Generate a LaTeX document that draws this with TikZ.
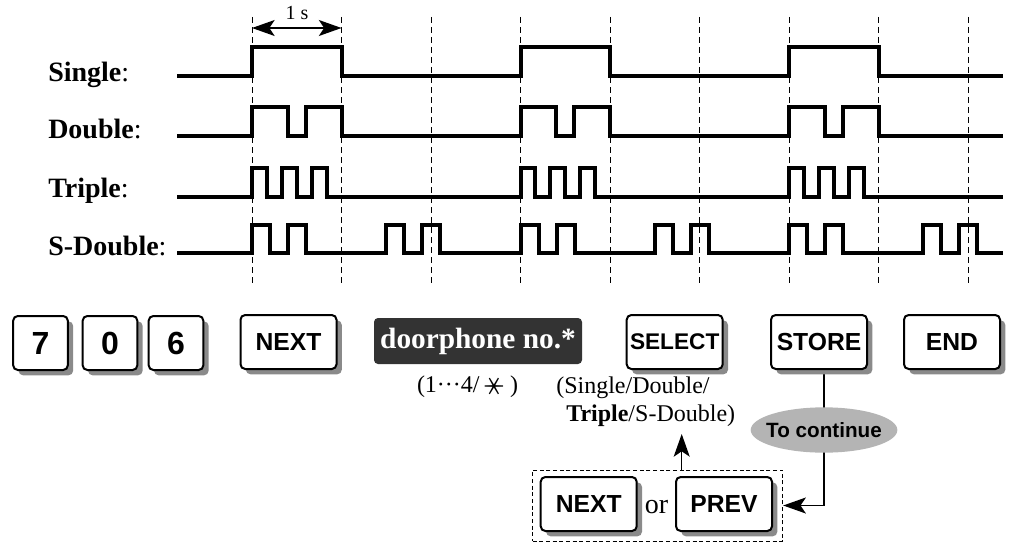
\documentclass[tikz,border=0pt]{standalone}
\usepackage{fontspec}
\setmainfont{Liberation Serif}
\setsansfont{Liberation Sans}
\newfontfamily\cjk{Noto Sans CJK JP}
\usetikzlibrary{positioning,arrows.meta,shapes.geometric,shadows,backgrounds}
\definecolor{plate}{HTML}{333333}
\definecolor{bubble}{HTML}{B4B4B4}
\definecolor{shade}{HTML}{8A8A8A}

\begin{document}
\begin{tikzpicture}[x=0.75pt,y=-0.75pt,
  >={Stealth[length=17pt,width=12pt,inset=4pt]},
  wave/.style={line width=3pt},
  guide/.style={line width=0.6pt,dash pattern=on 4.5pt off 3pt},
  key/.style={draw,line width=1.5pt,rounded corners=3.5pt,fill=white,inner sep=0pt,
    minimum width=72pt,minimum height=40.5pt,font=\sffamily\bfseries\fontsize{18.5}{22}\selectfont,
    drop shadow={shadow xshift=4pt,shadow yshift=-4pt,fill=shade,opacity=1}},
  digit/.style={key,minimum width=41pt,font=\sffamily\bfseries\fontsize{24}{28}\selectfont},
  lbl/.style={anchor=base west,inner sep=0pt,font=\fontsize{21}{24}\selectfont},
  note/.style={inner sep=0pt,font=\fontsize{18}{21}\selectfont},
  link/.style={line width=1pt}]
\useasboundingbox (0,0) rectangle (1012,542);

\foreach \k in {0,...,8}
  \draw[guide] ({252+89.5*\k},17) -- ({252+89.5*\k},287);

\coordinate (t0) at (252,28);
\coordinate (t1) at (341.5,28);
\draw[link,<->] (t0) -- (t1);
\node[anchor=base,inner sep=0pt,font=\fontsize{15}{18}\selectfont] (onesec) at (297,20) {1 s};

\node[lbl] (single) at (48,81) {\textbf{Single}:};
\node[lbl] (double) at (48,138) {\textbf{Double}:};
\node[lbl] (triple) at (48,197) {\textbf{Triple}:};
\node[lbl] (sdouble) at (48,255) {\textbf{S-Double}:};

\draw[wave] (177,76) \foreach \p in {0,1,2} {
  -- ({252+268.5*\p},76) -- ++(0,-29) -- ++(89.5,0) -- ++(0,29)} -- (1003,76);
\draw[wave] (177,136) \foreach \p in {0,1,2} {
  -- ({252+268.5*\p},136) -- ++(0,-29) -- ++(35.8,0) -- ++(0,29)
  -- ++(17.9,0) -- ++(0,-29) -- ++(35.8,0) -- ++(0,29)} -- (1003,136);
\draw[wave] (177,197) \foreach \p in {0,1,2} {
  -- ({252+268.5*\p},197) -- ++(0,-29) -- ++(14.92,0) -- ++(0,29)
  -- ++(14.92,0) -- ++(0,-29) -- ++(14.92,0) -- ++(0,29)
  -- ++(14.92,0) -- ++(0,-29) -- ++(14.92,0) -- ++(0,29)} -- (1003,197);
\draw[wave] (177,253) \foreach \s in {0,...,5} {
  -- ({252+134.25*\s},253) -- ++(0,-28) -- ++(18,0) -- ++(0,28)
  -- ++(18,0) -- ++(0,-28) -- ++(18,0) -- ++(0,28)} -- (1003,253);

\node[digit] (k7) at (40.5,343) {7};
\node[digit] (k0) at (110,343) {0};
\node[digit] (k6) at (176,343) {6};
\node[key] (next) at (288.5,342) {NEXT};
\node[fill=plate,text=white,rounded corners=3pt,inner sep=0pt,minimum width=156pt,minimum height=34.5pt,
  font=\bfseries\fontsize{22}{26}\selectfont] (door) at (478,341) {doorphone no.*};
\node[key,font=\sffamily\bfseries\fontsize{17}{20}\selectfont] (select) at (674.7,342) {SELECT};
\node[key] (store) at (819,342) {STORE};
\node[key] (endk) at (952,342) {END};

\node[note] (range) at (467.5,386) {(1···4/ \raisebox{-0.5ex}{\rotatebox{90}{\cjk ＊}} )};
\node[note,anchor=west] (selnote) at (556,388) {(Single/Double/};
\node[note,anchor=west] (selnote2) at (566,416) {\textbf{Triple}/S-Double)};

\node[ellipse,fill=bubble,inner xsep=-5pt,inner ysep=0pt,minimum width=110pt,minimum height=34pt,
  font=\sffamily\bfseries\fontsize{15.5}{18}\selectfont] (cont) at (824,430) {To continue};

\node[key] (next2) at (588.7,504) {NEXT};
\node[key] (prev) at (724,504) {PREV};
\node[anchor=base,inner sep=0pt,font=\fontsize{21}{24}\selectfont] (or) at (656.5,513) {or};
\node[draw,line width=0.75pt,dash pattern=on 3pt off 2pt,minimum width=187.5pt,minimum height=53.25pt]
  (choice) at (657.7,505.5) {};

\begin{scope}[on background layer]
\draw[link,->] (cont |- store.south) -- (cont |- choice.east) -- (choice.east);
\end{scope}
\coordinate (uptip) at (681.7,434);
\draw[link,->] (choice.north -| uptip) -- (uptip);
\end{tikzpicture}
\end{document}
